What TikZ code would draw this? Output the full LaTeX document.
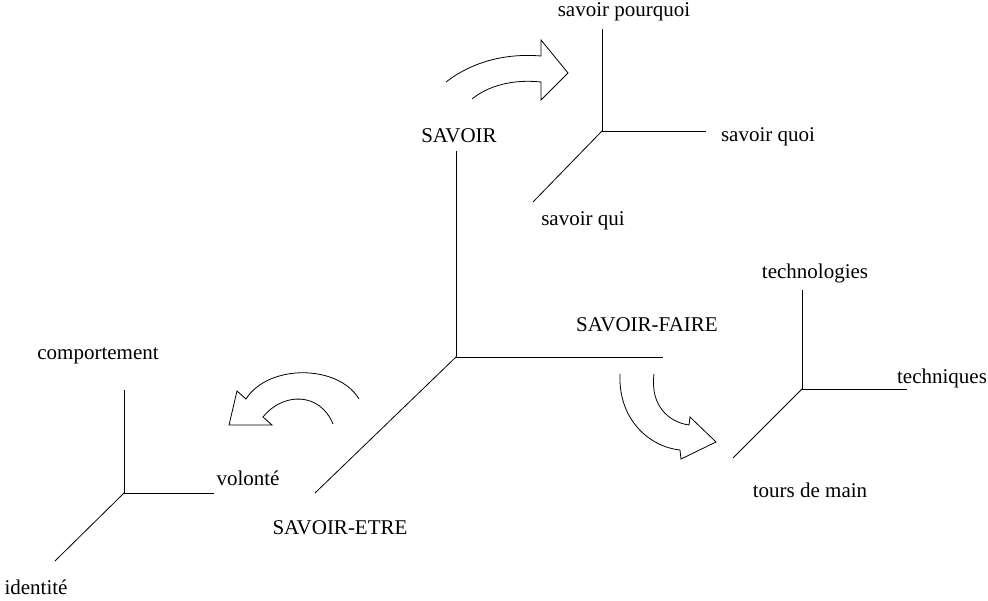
\documentclass[tikz,border=0pt]{standalone}
\usepackage{fontspec}
\setmainfont{Liberation Serif}
\usetikzlibrary{positioning}

\begin{document}
\begin{tikzpicture}[x=1pt, y=-1pt, lbl/.style = {inner sep=0pt, font=\fontsize{21}{23}\selectfont}, axis/.style = {draw, line width=0.8pt}, bigarrow/.style = {draw, line width=0.8pt, line join=miter}]
	\useasboundingbox (0,0) rectangle (988,601);
	% main axes
	\coordinate (o) at (456,357);
	\coordinate (oUp) at (456,151);
	\coordinate (oRight) at (663,357);
	\coordinate (oDiag) at (315,493);
	\node[lbl] (savoir) at (459,136) {SAVOIR};
	\node[lbl] (faire) at (647,325) {SAVOIR-FAIRE};
	\node[lbl] (etre) at (340,528) {SAVOIR-ETRE};
	\draw[axis] (o) -- (oUp);
	\draw[axis] (o) -- (oRight);
	\draw[axis] (o) -- (oDiag);

	% savoir
	\coordinate (s) at (602,131);
	\coordinate (sUp) at (602,29);
	\coordinate (sRight) at (706,131);
	\coordinate (sDiag) at (533,202);
	\node[lbl] (pourquoi) at (624,12) {savoir pourquoi};
	\node[lbl] (quoi) at (768,137) {savoir quoi};
	\node[lbl] (qui) at (583,221) {savoir qui};
	\draw[axis] (s) -- (sUp);
	\draw[axis] (s) -- (sRight);
	\draw[axis] (s) -- (sDiag);

	% savoir-faire
	\coordinate (f) at (802,389);
	\coordinate (fUp) at (802,290);
	\coordinate (fRight) at (907,389);
	\coordinate (fDiag) at (733,458);
	\node[lbl] (techno) at (815,273) {technologies};
	\node[lbl] (techn) at (942,378) {techniques};
	\node[lbl] (tours) at (810,490) {tours de main};
	\draw[axis] (f) -- (fUp);
	\draw[axis] (f) -- (fRight);
	\draw[axis] (f) -- (fDiag);

	% savoir-etre
	\coordinate (e) at (124,493);
	\coordinate (eUp) at (124,390);
	\coordinate (eRight) at (214,493);
	\coordinate (eDiag) at (55,561);
	\node[lbl] (comport) at (98,356) {comportement};
	\node[lbl] (volonte) at (248,478) {volonté};
	\node[lbl] (ident) at (36,587) {identité};
	\draw[axis] (e) -- (eUp);
	\draw[axis] (e) -- (eRight);
	\draw[axis] (e) -- (eDiag);

	% curved arrows
	\draw[bigarrow] (446,82) .. controls (472,62) and (505,53) .. (541,56) -- (541,40) -- (568,73) -- (541,100) -- (541,82) .. controls (512,79) and (488,86) .. (472,99);
	\draw[bigarrow] (359,399) .. controls (338,364) and (268,364) .. (246,399) -- (237,391) -- (229,425) -- (272,425) -- (263,417) .. controls (283,392) and (320,392) .. (333,424);
	\draw[bigarrow] (620,374) .. controls (618,420) and (650,447) .. (680,450) -- (681,459) -- (716,442) -- (690,417) -- (689,425) .. controls (668,422) and (650,405) .. (654,374);
\end{tikzpicture}
\end{document}
